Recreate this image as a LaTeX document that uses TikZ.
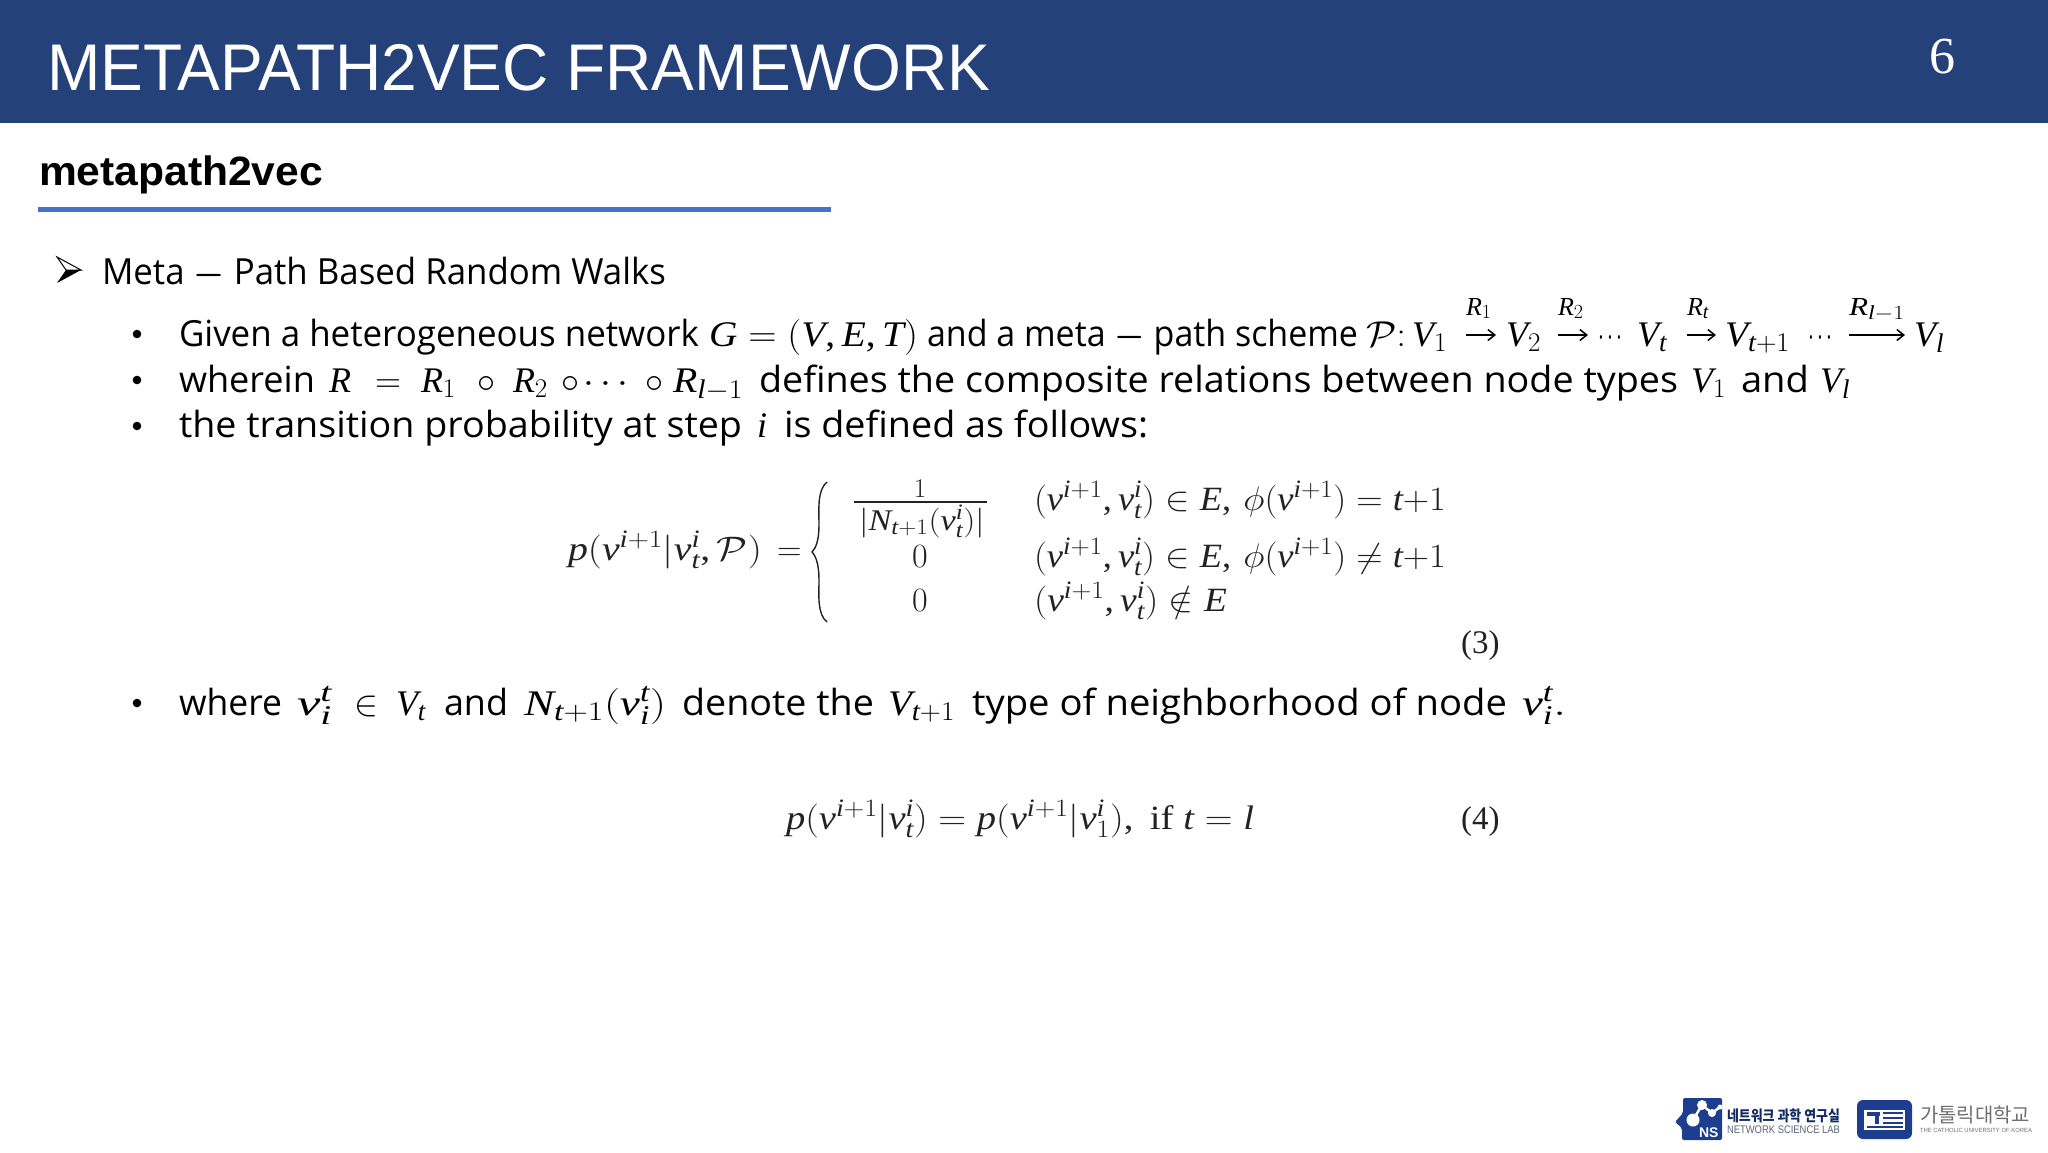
\RequirePackage{fix-cm}
\documentclass[tikz,border=0pt]{standalone}
\usepackage{graphicx}
\usepackage{amsmath}
\usepackage{fontspec}
\setmainfont{Open Sans}
\newfontfamily\sansfont{Liberation Sans}
\newfontfamily\serifnum[NFSSFamily=lsf]{Liberation Serif}
\newfontfamily\krfont{Noto Sans CJK KR}
\DeclareSymbolFont{lsfit}{TU}{lsf}{m}{it}
\DeclareSymbolFont{lsfup}{TU}{lsf}{m}{n}
\newcommand\ItLetters[1]{\ItLettersB#1\relax}
\def\ItLettersB#1{\ifx#1\relax\else\DeclareMathSymbol{#1}{\mathalpha}{lsfit}{`#1}\expandafter\ItLettersB\fi}
\ItLetters{VRGETNtilvp}
\DeclareMathSymbol{0}{\mathalpha}{lsfup}{`0}
\DeclareMathSymbol{1}{\mathalpha}{lsfup}{`1}
\DeclareMathSymbol{2}{\mathalpha}{lsfup}{`2}
\DeclareMathSymbol{(}{\mathopen}{lsfup}{`(}
\DeclareMathSymbol{)}{\mathclose}{lsfup}{`)}
\DeclareMathSymbol{,}{\mathpunct}{lsfup}{`,}
\DeclareMathSizes{36}{36}{27}{21}
\DeclareMathSizes{34}{34}{25}{19}
\DeclareMathSizes{30}{30}{22}{17}
\DeclareMathSizes{26}{26}{20}{16}
\usetikzlibrary{arrows.meta}
\definecolor{headblue}{HTML}{254179}
\definecolor{ruleblue}{HTML}{4472C4}
\definecolor{nsblue}{HTML}{1D3E8F}
\definecolor{logogrey}{HTML}{6F6F6F}
\definecolor{labgrey}{HTML}{5A6478}
\definecolor{eqblack}{HTML}{222222}
\newcommand\FS[1]{\fontsize{#1}{#1}\selectfont}
\newcommand\W[2]{\resizebox{#1pt}{\height}{#2}}
\newcommand\BM{\ensuremath{\boldsymbol{-}}}
\newcounter{tn}
\newcommand\T[4][]{\stepcounter{tn}\node[txt,#1] (t\thetn) at (#2,#3) {#4};}
\tikzset{
  txt/.style={inner sep=0pt,outer sep=0pt,anchor=base west,font=\FS{36}},
  small/.style={font=\FS{26}},
  eq/.style={font=\FS{34},text=eqblack},
  mid/.style={anchor=base},
  relarrow/.style={line width=1.5pt,-{Straight Barb[length=7pt,width=11pt]}},
}
\begin{document}
\begin{tikzpicture}[x=1pt,y=-1pt]
\useasboundingbox (0,0) rectangle (2048,1152);
% header
\fill[headblue] (0,0) rectangle (2048,123);
\T[font=\sansfont\FS{66},text=white]{47}{90}{\W{943}{METAPATH2VEC FRAMEWORK}}
\T[font=\serifnum\FS{52},text=white]{1929}{73}{6}
% subtitle
\T[font=\sansfont\bfseries\FS{41}]{39}{185}{\W{284}{metapath2vec}}
\fill[ruleblue] (38,207) rectangle (831,212);
% level 1 arrow bullet
\coordinate (tip) at (81,270); \coordinate (tl) at (57,257); \coordinate (notch) at (66,270); \coordinate (bl) at (57,283);
\fill[black] (tip) -- (notch) -- (bl) -- cycle;
\draw[line width=1pt,line join=miter] (tip) -- (tl) -- (notch) -- cycle;
\T{102}{284}{\W{564}{Meta \BM\ Path Based Random Walks}}
% bullets
\foreach \n/\y in {a/334,b/380,c/426,d/703}{\fill (137,\y) circle (4.3);}
% line 1
\T{179}{346}{\W{520}{Given a heterogeneous network}}
\T{709}{346}{\W{209}{$G=(V,E,T)$}}
\T{927}{346}{\W{431}{and a meta \BM\ path scheme}}
\T{1366}{346}{\W{40}{$\mathcal{P}{:}$}}
\T{1412}{346}{$V_1$}
\T[small]{1466}{315}{$R_1$}
\coordinate (a1s) at (1466,335); \coordinate (a1e) at (1496,335);
\draw[relarrow] (a1s) -- (a1e);
\T{1506}{346}{$V_2$}
\T[small]{1558}{315}{$R_2$}
\coordinate (a2s) at (1558,335); \coordinate (a2e) at (1588,335);
\draw[relarrow] (a2s) -- (a2e);
\T{1598}{346}{\W{28}{$\cdots$}}
\T{1637}{346}{$V_t$}
\T[small]{1687}{315}{$R_t$}
\coordinate (a3s) at (1687,335); \coordinate (a3e) at (1716,335);
\draw[relarrow] (a3s) -- (a3e);
\T{1725}{346}{\W{65}{$V_{t+1}$}}
\T{1808}{346}{\W{28}{$\cdots$}}
\T[small]{1849}{315}{\W{56}{$R_{l-1}$}}
\coordinate (a4s) at (1849,335); \coordinate (a4e) at (1905,335);
\draw[relarrow] (a4s) -- (a4e);
\T{1914}{346}{$V_l$}
% line 2
\T{179}{392}{\W{136}{wherein}}
\T{329}{392}{$R$}
\T{375}{392}{$=$}
\T{421}{392}{$R_1$}
\T{477}{392}{$\circ$}
\T{513}{392}{$R_2$}
\T{561}{392}{$\circ$}
\T{583}{392}{\W{52}{$\cdots$}}
\T{645}{392}{$\circ$}
\T{673}{392}{\W{70}{$R_{l-1}$}}
\T{759}{392}{\W{919}{defines the composite relations between node types}}
\T{1691}{392}{$V_1$}
\T{1741}{392}{\W{68}{and}}
\T{1820}{392}{$V_l$}
% line 3
\T{179}{437}{\W{563}{the transition probability at step}}
\T{757}{437}{$i$}
\T{784}{437}{\W{364}{is defined as follows:}}
% equation 3
\T[eq]{568}{560}{\W{194}{$p(v^{i+1}|v_t^i,\mathcal{P})$}}
\T[eq]{777}{560}{$=$}
\coordinate (bt) at (827,482); \coordinate (bm) at (812,552); \coordinate (bb) at (827,622);
\draw[line width=1.4pt,eqblack] (bt) .. controls (817,490) and (819,510) .. (819,525)
  .. controls (819,540) and (816,548) .. (bm)
  .. controls (816,556) and (819,565) .. (819,580)
  .. controls (819,595) and (817,614) .. (bb);
\T[eq,mid,font=\FS{27}]{920}{497}{$1$}
\coordinate (barL) at (854,502); \coordinate (barR) at (987,502);
\draw[line width=1.6pt,eqblack] (barL) -- (barR);
\T[eq,font=\FS{30}]{859}{530}{\W{126}{$|N_{t+1}(v_t^i)|$}}
\T[eq,mid]{920}{567}{$0$}
\T[eq,mid]{920}{611}{$0$}
\T[eq]{1034}{510}{\W{412}{$(v^{i+1},v_t^i)\in E,\,\phi(v^{i+1})=t{+}1$}}
\T[eq]{1034}{567}{\W{412}{$(v^{i+1},v_t^i)\in E,\,\phi(v^{i+1})\neq t{+}1$}}
\T[eq]{1034}{611}{\W{193}{$(v^{i+1},v_t^i)\notin E$}}
\T[eq,font=\serifnum\FS{33},text=eqblack]{1461}{653}{(3)}
% where line
\T{179}{715}{\W{103}{where}}
\T{297}{715}{\W{35}{$v_i^t$}}
\T{354}{715}{$\in$}
\T{396}{715}{$V_t$}
\T{444}{715}{\W{64}{and}}
\T{524}{715}{\W{142}{$N_{t+1}(v_i^t)$}}
\T{682}{715}{\W{192}{denote the}}
\T{888}{715}{\W{67}{$V_{t+1}$}}
\T{972}{715}{\W{535}{type of neighborhood of node}}
\T{1522}{715}{\W{44}{$v_i^t.$}}
% equation 4
\T[eq]{786}{829}{\W{468}{$p(v^{i+1}|v_t^i)=p(v^{i+1}|v_1^i),\ \textrm{\serifnum if}\ t=l$}}
\T[eq,font=\serifnum\FS{33},text=eqblack]{1461}{829}{(4)}
% NS logo
\fill[nsblue,rounded corners=2pt] (1683,1098) -- (1722,1098) -- (1722,1140) -- (1682,1140) -- (1682,1128) -- (1675,1122) -- (1683,1113) -- cycle;
\draw[white,line width=2.5pt] (1693,1120) -- (1702,1105) -- (1712,1113) -- (1720,1107);
\fill[white] (1693,1120) circle (6.5);
\fill[white] (1702,1105) circle (5);
\fill[white] (1712,1113) circle (4);
\fill[white] (1720,1107) circle (2.5);
\T[font=\sansfont\bfseries\FS{14},text=white]{1699}{1137}{NS}
\T[font=\krfont\bfseries\FS{15},text=nsblue!70!black]{1727}{1121}{\W{113}{네트워크 과학 연구실}}
\T[font=\sansfont\FS{11},text=labgrey]{1727}{1133}{\W{113}{NETWORK SCIENCE LAB}}
% university logo
\fill[nsblue,rounded corners=6pt] (1857,1100) rectangle (1912,1139);
\fill[white] (1864,1110) rectangle (1905,1130);
\fill[nsblue] (1867,1112) rectangle (1880,1116);
\fill[nsblue] (1875,1112) rectangle (1879,1124);
\fill[nsblue] (1883,1112) rectangle (1903,1114);
\fill[nsblue] (1883,1117) rectangle (1903,1119);
\fill[nsblue] (1883,1122) rectangle (1903,1124);
\fill[nsblue] (1867,1126) rectangle (1903,1128);
\T[font=\krfont\FS{20},text=logogrey]{1920}{1122}{\W{110}{가톨릭대학교}}
\T[font=\sansfont\FS{6},text=logogrey]{1920}{1132}{\W{112}{THE CATHOLIC UNIVERSITY OF KOREA}}
\end{tikzpicture}
\end{document}
